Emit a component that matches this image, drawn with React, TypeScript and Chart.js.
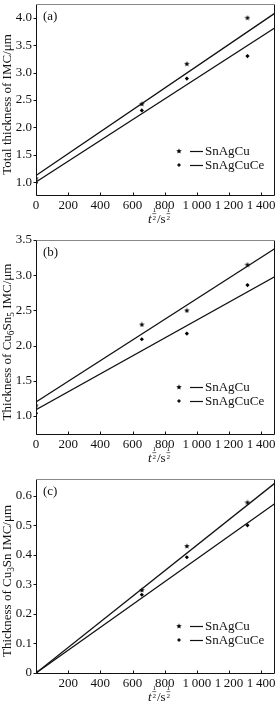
import React, { useEffect, useRef } from 'react';
import { Chart, registerables } from 'chart.js';

Chart.register(...registerables);

// ---- data ----
const TIME_X = [0, 658, 938, 1315]; // t^1/2 / s^1/2
const FIT_X = [0, 1486];
const X_MAX = 1486;

const A_SNAGCU = [1.07, 2.43, 3.16, 4.0];
const A_SNAGCUCE = [0.99, 2.31, 2.89, 3.3];
const A_FIT_SNAGCU = [1.125, 4.084];
const A_FIT_SNAGCUCE = [1.005, 3.816];

const B_SNAGCU = [1.15, 2.3, 2.5, 3.15];
const B_SNAGCUCE = [1.04, 2.09, 2.17, 2.86];
const B_FIT_SNAGCU = [1.2, 3.38];
const B_FIT_SNAGCUCE = [1.09, 2.98];

const C_SNAGCU = [0.005, 0.281, 0.43, 0.578];
const C_SNAGCUCE = [0.003, 0.265, 0.392, 0.5];
const C_FIT_SNAGCU = [0, 0.643];
const C_FIT_SNAGCUCE = [0, 0.574];

const SERIES_NAMES = ['SnAgCu', 'SnAgCuCe'];
const PANEL_LABELS = ['(a)', '(b)', '(c)'];

const FONT = "'Liberation Serif', 'Times New Roman', 'DejaVu Serif', serif";
const INK = '#111';

type Seg = { t?: string; sub?: boolean; italic?: boolean; frac?: boolean };

const Y_TITLE_A: Seg[] = [{ t: 'Total thickness of IMC/\u03bcm' }];
const Y_TITLE_B: Seg[] = [
  { t: 'Thickness of Cu' }, { t: '6', sub: true }, { t: 'Sn' }, { t: '5', sub: true }, { t: ' IMC/\u03bcm' },
];
const Y_TITLE_C: Seg[] = [
  { t: 'Thickness of Cu' }, { t: '3', sub: true }, { t: 'Sn IMC/\u03bcm' },
];
const X_TITLE: Seg[] = [{ t: 't', italic: true }, { frac: true }, { t: '/s' }, { frac: true }];

interface PanelCfg {
  top: number;
  height: number;
  padTop: number;
  xHeight: number;
  yMin: number;
  yMax: number;
  yStep: number;
  cu: number[];
  ce: number[];
  fitCu: number[];
  fitCe: number[];
  label: string;
  yTitle: Seg[];
  hideX0: boolean;
  yDigits0: boolean;
}

const PANELS: PanelCfg[] = [
  { top: 0, height: 230, padTop: 0, xHeight: 35, yMin: 0.768, yMax: 4.25, yStep: 0.5,
    cu: A_SNAGCU, ce: A_SNAGCUCE, fitCu: A_FIT_SNAGCU, fitCe: A_FIT_SNAGCUCE,
    label: PANEL_LABELS[0], yTitle: Y_TITLE_A, hideX0: false, yDigits0: false },
  { top: 230, height: 240, padTop: 10, xHeight: 36, yMin: 0.744, yMax: 3.5, yStep: 0.5,
    cu: B_SNAGCU, ce: B_SNAGCUCE, fitCu: B_FIT_SNAGCU, fitCe: B_FIT_SNAGCUCE,
    label: PANEL_LABELS[1], yTitle: Y_TITLE_B, hideX0: false, yDigits0: false },
  { top: 470, height: 238, padTop: 9, xHeight: 35, yMin: 0, yMax: 0.657, yStep: 0.1,
    cu: C_SNAGCU, ce: C_SNAGCUCE, fitCu: C_FIT_SNAGCU, fitCe: C_FIT_SNAGCUCE,
    label: PANEL_LABELS[2], yTitle: Y_TITLE_C, hideX0: true, yDigits0: true },
];

function fmtX(v: number): string {
  if (v >= 1000) {
    return Math.floor(v / 1000) + '\u2009' + String(v % 1000).padStart(3, '0');
  }
  return String(v);
}

function drawRich(ctx: CanvasRenderingContext2D, segs: Seg[], cx: number, y: number, size: number) {
  const fracW = size * 0.42;
  const items = segs.map((s) => {
    if (s.frac) return { s, w: fracW, fs: size };
    const fs = s.sub ? size * 0.72 : size;
    ctx.font = `${s.italic ? 'italic ' : ''}${fs}px ${FONT}`;
    return { s, w: ctx.measureText(s.t || '').width, fs };
  });
  const total = items.reduce((a, b) => a + b.w, 0);
  let x = cx - total / 2;
  ctx.textAlign = 'left';
  ctx.textBaseline = 'alphabetic';
  for (const it of items) {
    if (it.s.frac) {
      const fs = size * 0.55;
      ctx.font = `${fs}px ${FONT}`;
      ctx.textAlign = 'center';
      const mx = x + it.w / 2;
      ctx.fillText('1', mx, y - size * 0.82);
      ctx.fillText('2', mx, y - size * 0.2);
      ctx.beginPath();
      ctx.lineWidth = 0.6;
      ctx.moveTo(x + 0.8, y - size * 0.72);
      ctx.lineTo(x + it.w - 0.8, y - size * 0.72);
      ctx.stroke();
      ctx.textAlign = 'left';
    } else {
      ctx.font = `${it.s.italic ? 'italic ' : ''}${it.fs}px ${FONT}`;
      ctx.fillText(it.s.t || '', x, y + (it.s.sub ? size * 0.22 : 0));
    }
    x += it.w;
  }
}

function makeStar(): HTMLCanvasElement {
  const c = document.createElement('canvas');
  c.width = 6;
  c.height = 6;
  const g = c.getContext('2d')!;
  g.fillStyle = '#000';
  g.beginPath();
  const R = 2.9, r = 1.25;
  for (let i = 0; i < 10; i++) {
    const ang = -Math.PI / 2 + (i * Math.PI) / 5;
    const rad = i % 2 === 0 ? R : r;
    const px = 3 + rad * Math.cos(ang);
    const py = 3.25 + rad * Math.sin(ang);
    if (i === 0) g.moveTo(px, py);
    else g.lineTo(px, py);
  }
  g.closePath();
  g.fill();
  return c;
}

function Panel({ cfg }: { cfg: PanelCfg }) {
  const ref = useRef<HTMLCanvasElement | null>(null);
  useEffect(() => {
    const canvas = ref.current;
    if (!canvas) return;
    const star = makeStar();

    const deco = {
      id: 'deco',
      afterDraw(chart: any) {
        const ctx: CanvasRenderingContext2D = chart.ctx;
        const a = chart.chartArea;
        const xs = chart.scales.x;
        const ys = chart.scales.y;
        ctx.save();
        ctx.strokeStyle = INK;
        ctx.fillStyle = INK;
        // frame
        const L = Math.round(a.left) + 0.5;
        const R = Math.round(a.right) - 0.5;
        const T = Math.round(a.top) + 0.5;
        const B = Math.round(a.bottom) + 0.5;
        ctx.lineWidth = 1;
        ctx.beginPath();
        ctx.moveTo(L, T);
        ctx.lineTo(L, B);
        ctx.lineTo(R, B);
        ctx.lineTo(R, T);
        ctx.stroke();
        ctx.strokeStyle = '#888';
        ctx.beginPath();
        ctx.moveTo(L, T);
        ctx.lineTo(R, T);
        ctx.stroke();
        ctx.strokeStyle = INK;
        // ticks
        ctx.beginPath();
        for (const t of xs.ticks) {
          const px = Math.round(xs.getPixelForValue(t.value)) + 0.5;
          ctx.moveTo(px, B);
          ctx.lineTo(px, B - 3);
        }
        for (const t of ys.ticks) {
          const py = Math.round(ys.getPixelForValue(t.value)) + 0.5;
          ctx.moveTo(L, py);
          ctx.lineTo(L - 3, py);
        }
        ctx.stroke();
        // panel label
        ctx.font = `13px ${FONT}`;
        ctx.textAlign = 'left';
        ctx.textBaseline = 'middle';
        ctx.fillText(cfg.label, a.left + 7, a.top + 13);
        // legend
        const lx = a.left + 143;
        const rows = [a.top + 147, a.top + 161];
        SERIES_NAMES.forEach((name, i) => {
          const yc = rows[i];
          if (i === 0) {
            ctx.drawImage(star, lx - 3, yc - 3);
          } else {
            ctx.beginPath();
            ctx.moveTo(lx, yc - 2);
            ctx.lineTo(lx + 2, yc);
            ctx.lineTo(lx, yc + 2);
            ctx.lineTo(lx - 2, yc);
            ctx.closePath();
            ctx.fill();
          }
          ctx.beginPath();
          ctx.lineWidth = 1.2;
          ctx.moveTo(lx + 11, yc + 0.5);
          ctx.lineTo(lx + 24, yc + 0.5);
          ctx.stroke();
          ctx.font = `13px ${FONT}`;
          ctx.textBaseline = 'middle';
          ctx.textAlign = 'left';
          ctx.fillText(name, lx + 26, yc + 0.5);
        });
        // x title
        ctx.lineWidth = 0.6;
        drawRich(ctx, X_TITLE, (a.left + a.right) / 2 + 4, a.bottom + 28, 13);
        // y title
        ctx.save();
        ctx.translate(11, (a.top + a.bottom) / 2 + 5);
        ctx.rotate(-Math.PI / 2);
        drawRich(ctx, cfg.yTitle, 0, 0, 13);
        ctx.restore();
        ctx.restore();
      },
    };

    const pts = (ys: number[]) => TIME_X.map((x, i) => ({ x, y: ys[i] }));
    const fit = (ys: number[]) => FIT_X.map((x, i) => ({ x, y: ys[i] }));

    const chart = new Chart(canvas, {
      type: 'scatter',
      data: {
        datasets: [
          { label: SERIES_NAMES[0] + ' fit', data: fit(cfg.fitCu), showLine: true, pointRadius: 0,
            borderColor: INK, borderWidth: 1.3, backgroundColor: INK },
          { label: SERIES_NAMES[1] + ' fit', data: fit(cfg.fitCe), showLine: true, pointRadius: 0,
            borderColor: INK, borderWidth: 1.3, backgroundColor: INK },
          { label: SERIES_NAMES[0], data: pts(cfg.cu), showLine: false, pointStyle: star as any,
            pointRadius: 3, borderWidth: 0 },
          { label: SERIES_NAMES[1], data: pts(cfg.ce), showLine: false, pointStyle: 'rectRot',
            pointRadius: 2.1, backgroundColor: '#000', borderColor: '#000', borderWidth: 0 },
        ],
      } as any,
      options: {
        responsive: false,
        animation: false,
        devicePixelRatio: 1,
        events: [],
        layout: { padding: { top: cfg.padTop, right: 1, bottom: 0, left: 0 } },
        plugins: { legend: { display: false }, tooltip: { enabled: false }, title: { display: false } },
        scales: {
          x: {
            type: 'linear',
            min: 0,
            max: X_MAX,
            grid: { display: false, drawTicks: false, tickLength: 0 },
            border: { display: false },
            ticks: {
              stepSize: 200,
              includeBounds: false,
              autoSkip: false,
              maxRotation: 0,
              padding: 3,
              color: INK,
              font: { family: FONT, size: 13 },
              callback: (v: any) => (cfg.hideX0 && Number(v) === 0 ? '' : fmtX(Number(v))),
            },
            afterFit: (s: any) => {
              s.height = cfg.xHeight;
              s.paddingLeft = 0;
              s.paddingRight = 0;
            },
          },
          y: {
            type: 'linear',
            min: cfg.yMin,
            max: cfg.yMax,
            grid: { display: false, drawTicks: false, tickLength: 0 },
            border: { display: false },
            ticks: {
              stepSize: cfg.yStep,
              includeBounds: false,
              padding: 4,
              color: INK,
              font: { family: FONT, size: 13 },
              callback: (v: any) => {
                const n = Number(v);
                if (cfg.yDigits0 && Math.abs(n) < 1e-9) return '0';
                return n.toFixed(1);
              },
            },
            afterFit: (s: any) => {
              s.width = 36;
              s.paddingTop = 0;
              s.paddingBottom = 0;
            },
          },
        },
      } as any,
      plugins: [deco],
    });
    return () => chart.destroy();
  }, [cfg]);

  return (
    <canvas
      ref={ref}
      width={279}
      height={cfg.height}
      style={{ position: 'absolute', left: 0, top: cfg.top, width: 279, height: cfg.height }}
    />
  );
}

export default function App() {
  return (
    <div
      style={{
        position: 'absolute',
        left: 0,
        top: 0,
        width: 279,
        height: 708,
        overflow: 'hidden',
        background: '#fff',
      }}
    >
      {PANELS.map((p, i) => (
        <Panel key={i} cfg={p} />
      ))}
    </div>
  );
}
